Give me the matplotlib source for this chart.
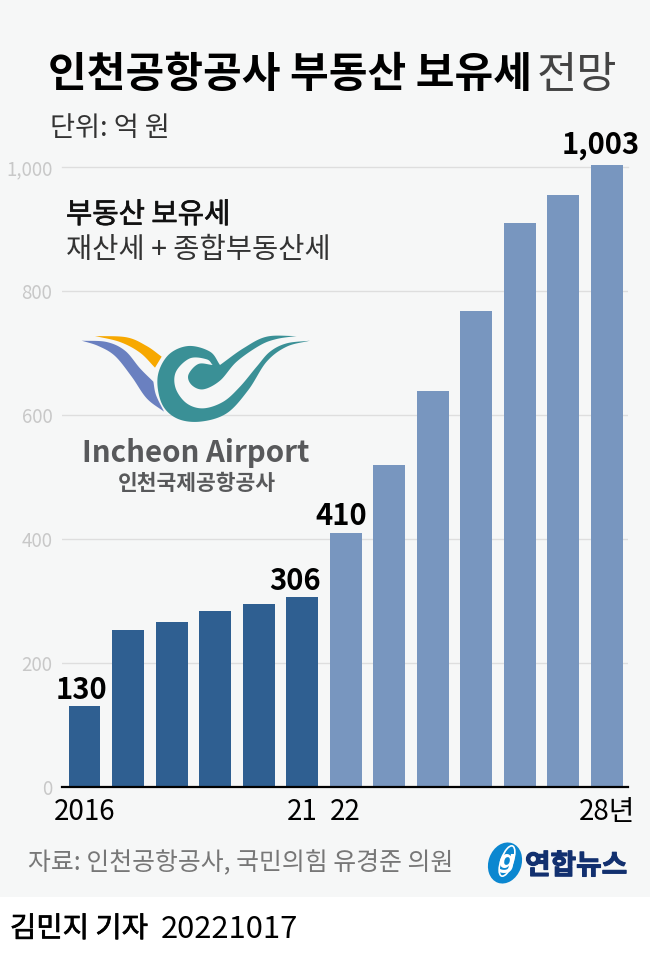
import matplotlib
matplotlib.use("Agg")
import matplotlib.pyplot as plt
from matplotlib.patches import PathPatch, Rectangle, Ellipse
from matplotlib.path import Path
import matplotlib.patheffects as pe
import numpy as np

plt.rcParams['font.family'] = ['Noto Sans CJK KR', 'DejaVu Sans']

years = [2016, 2017, 2018, 2019, 2020, 2021, 2022, 2023, 2024, 2025, 2026, 2027, 2028]
values = [130, 253, 266, 284, 295, 306, 410, 519, 639, 768, 910, 955, 1003]
colors = ['#2f5f91'] * 6 + ['#7896bf'] * 7
year_ticks = [2016, 2021, 2022, 2028]
year_labels = ['2016', '21', '22', '28년']
y_ticks = [0, 200, 400, 600, 800, 1000]
y_labels = ['0', '200', '400', '600', '800', '1,000']
shown = {2016: '130', 2021: '306', 2022: '410', 2028: '1,003'}
shown_dx = {2016: -2, 2021: -5, 2022: -3, 2028: -4}
shown_dy = {2016: 1, 2021: 1, 2022: 1, 2028: 4}

W, H = 650, 957
BG = '#f6f7f7'


def heavier(w, color):
    return [pe.withStroke(linewidth=w, foreground=color)]


fig = plt.figure(figsize=(W / 100, H / 100), dpi=100, facecolor='white')

# backdrop and free text live in a pixel-coordinate layer
bg = fig.add_axes([0, 0, 1, 1], zorder=0)
bg.set_xlim(0, W)
bg.set_ylim(H, 0)
bg.axis('off')
bg.add_patch(Rectangle((0, 0), W, 897, fc=BG, ec='none'))

# chart
ax = fig.add_axes([62 / W, 1 - 787 / H, 566 / W, 620 / H], zorder=1)
ax.patch.set_alpha(0)
bars = ax.bar(years, values, width=0.735, color=colors, zorder=2)
for b in bars:
    b.set_clip_on(False)
ax.set_xlim(2016 - 0.517, 2016 + 12.49)
ax.set_ylim(0, 1000)
for s in ['top', 'left', 'right']:
    ax.spines[s].set_visible(False)
ax.spines['bottom'].set_linewidth(1.6)
ax.spines['bottom'].set_color('black')
ax.spines['bottom'].set_zorder(3)
ax.set_yticks(y_ticks)
ax.set_yticklabels(y_labels, fontsize=13.5, color='#c8c8c8')
ax.set_xticks(year_ticks)
ax.set_xticklabels(year_labels, fontsize=20, color='black')
ax.tick_params(axis='both', length=0)
ax.tick_params(axis='y', pad=7)
ax.tick_params(axis='x', pad=7)
ax.grid(axis='y', color='#dedede', lw=1, zorder=0)
ax.set_axisbelow(True)
ax.yaxis.get_gridlines()[-1].set_clip_on(False)

for y, v in zip(years, values):
    if y in shown:
        ax.annotate(shown[y], (y, v), xytext=(shown_dx[y], shown_dy[y]), textcoords='offset points',
                    ha='center', va='bottom', fontsize=21, fontweight='bold', color='black',
                    annotation_clip=False)

# titles
bg.text(48, 75, '인천공항공사 부동산 보유세', fontsize=30.3, fontweight='bold', color='black',
        ha='left', va='center')
bg.text(537, 75, '전망', fontsize=31.5, color='#444444', ha='left', va='center')
bg.text(50, 128, '단위: 억 원', fontsize=19.6, color='#333333', ha='left', va='center')
bg.text(66, 215, '부동산 보유세', fontsize=20.6, color='#111111', ha='left', va='center',
        path_effects=heavier(0.5, '#111111'))
bg.text(66, 250, '재산세 + 종합부동산세', fontsize=20.5, color='#333333', ha='left', va='center')
bg.text(28, 863, '자료: 인천공항공사, 국민의힘 유경준 의원', fontsize=17.9, color='#777777', ha='left', va='center')
bg.text(10, 929, '김민지 기자', fontsize=20.6, color='black', ha='left', va='center',
        path_effects=heavier(0.5, 'black'))
bg.text(161, 929, '20221017', fontsize=22.3, color='black', ha='left', va='center')


def smooth(points, n=16):
    # catmull-rom through the points, used only for the logo outlines
    p = np.array(points, dtype=float)
    p = np.vstack([2 * p[0] - p[1], p, 2 * p[-1] - p[-2]])
    out = []
    for i in range(1, len(p) - 2):
        for t in np.linspace(0, 1, n, endpoint=False):
            out.append(0.5 * (2 * p[i] + (p[i + 1] - p[i - 1]) * t
                              + (2 * p[i - 1] - 5 * p[i] + 4 * p[i + 1] - p[i + 2]) * t ** 2
                              + (3 * p[i] - p[i - 1] - 3 * p[i + 1] + p[i + 2]) * t ** 3))
    out.append(p[-2])
    return out


def logo_shape(segments, color, layer=bg):
    pts = []
    for seg in segments:
        pts += smooth(seg)
    pts = np.array(pts)
    pts = np.column_stack([60 + pts[:, 0] / 3, 320 + pts[:, 1] / 3])
    layer.add_patch(PathPatch(Path(pts, closed=False), fc=color, ec='none', zorder=3))


# logo over the chart layer, drawn in zoomed-crop units
top = fig.add_axes([0, 0, 1, 1], zorder=2)
top.set_xlim(0, W)
top.set_ylim(H, 0)
top.axis('off')

logo_shape([[(105, 48), (200, 52), (260, 78), (305, 110)],
            [(305, 110), (285, 143)],
            [(285, 143), (240, 98), (180, 66), (105, 48)]], '#f7a800', top)
logo_shape([[(65, 62), (140, 66), (195, 92), (240, 145), (280, 185)],
            [(280, 185), (288, 225), (312, 275)],
            [(312, 275), (260, 235), (215, 170), (165, 108), (115, 78), (65, 62)]], '#6a80c0', top)
logo_shape([[(710, 48), (620, 50), (550, 85), (480, 135)],
            [(480, 135), (450, 95), (385, 78), (325, 105), (293, 170), (305, 250), (350, 295),
             (420, 305), (500, 280), (565, 210), (620, 125), (680, 80), (750, 62)],
            [(750, 62), (680, 70), (630, 95), (590, 140), (540, 200), (490, 245), (430, 265),
             (380, 250), (347, 205), (348, 155), (390, 115), (440, 118), (458, 135)],
            [(458, 135), (415, 132), (385, 165), (395, 195), (430, 208), (480, 182), (530, 125),
             (600, 76), (650, 57), (710, 48)]], '#3a9096', top)

top.text(196, 453, 'Incheon Airport', fontsize=21.2, fontweight='bold',
         color='#58595b', ha='center', va='center')
top.text(197, 484, '인천국제공항공사', fontsize=15.5, fontweight='bold', color='#58595b',
         ha='center', va='center')

# yonhap mark
top.add_patch(Ellipse((505, 863), 33, 42, angle=20, fc='#0b87d0', ec='none'))
top.add_patch(Ellipse((507, 861), 12, 32, angle=20, fc='none', ec='white', lw=1.2))
top.text(507, 861, 'g', fontsize=17, style='italic', color='white', ha='center', va='center',
         family='DejaVu Sans', fontweight='bold')
top.text(525, 866, '연합뉴스', fontsize=20, fontweight='bold', color='#12306f', ha='left', va='center',
         path_effects=heavier(0.8, '#12306f'))

fig.savefig('out.png', dpi=100, facecolor='white')
